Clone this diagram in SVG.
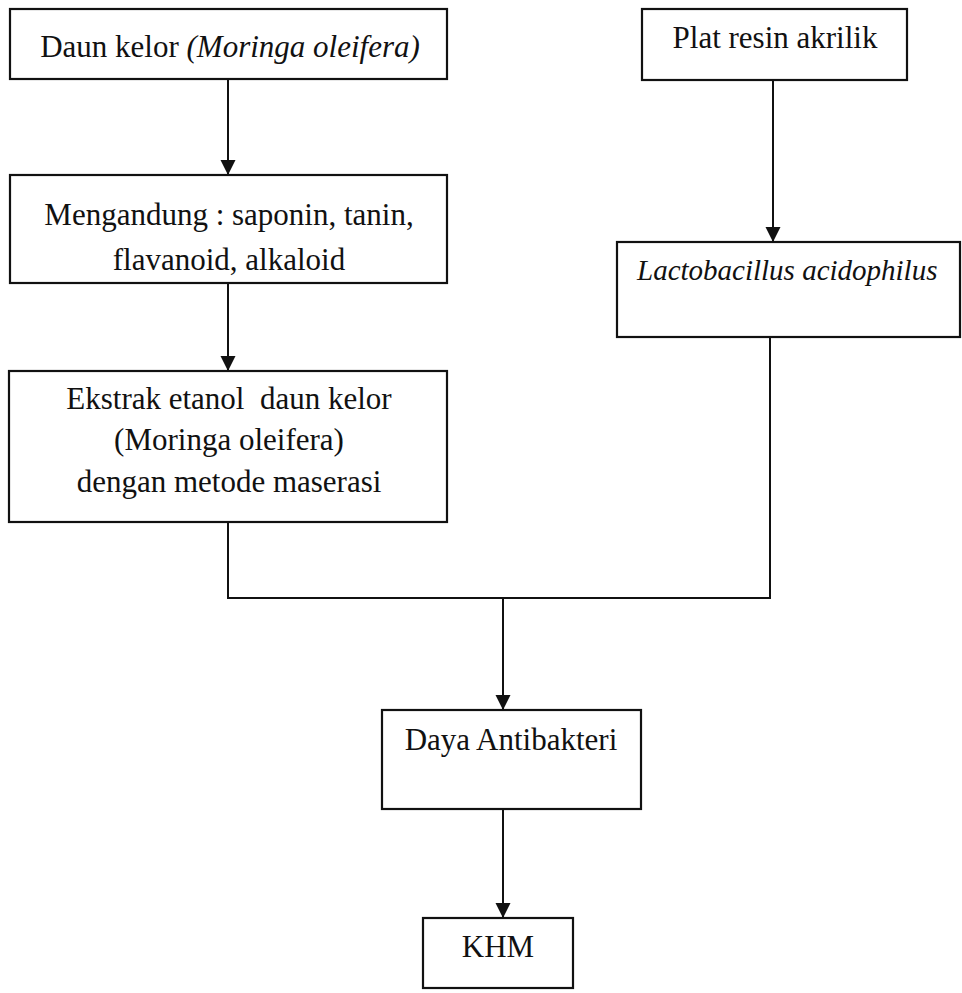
<svg xmlns="http://www.w3.org/2000/svg" width="962" height="993" viewBox="0 0 962 993">
<style>
.box{fill:#fff;stroke:#111;stroke-width:2.2}
.t{font-family:"Liberation Serif","Times New Roman",serif;font-size:31px;fill:#111;text-anchor:middle}
.i{font-style:italic}
.c{fill:none;stroke:#111;stroke-width:2}
</style>
<defs>
<marker id="ah" markerUnits="userSpaceOnUse" markerWidth="16" markerHeight="16" refX="15" refY="7.5" orient="auto">
<path d="M0,0 L15,7.5 L0,15 Z" fill="#111"/>
</marker>
</defs>
<rect width="962" height="993" fill="#fff"/>
<g id="connectors">
<line class="c" x1="228" y1="79" x2="228" y2="175" marker-end="url(#ah)"/>
<line class="c" x1="228" y1="283" x2="228" y2="371" marker-end="url(#ah)"/>
<line class="c" x1="773" y1="80" x2="773" y2="242" marker-end="url(#ah)"/>
<polyline class="c" points="228,522 228,598 770,598 770,337"/>
<line class="c" x1="503" y1="598" x2="503" y2="710" marker-end="url(#ah)"/>
<line class="c" x1="503" y1="809" x2="503" y2="918" marker-end="url(#ah)"/>
</g>
<g id="n1">
<rect class="box" x="10" y="9" width="437" height="70"/>
<text class="t" x="230" y="57">Daun kelor <tspan class="i">(Moringa oleifera)</tspan></text>
</g>
<g id="n2">
<rect class="box" x="10" y="175" width="437" height="108"/>
<text class="t" x="229" y="225">Mengandung : saponin, tanin,</text>
<text class="t" x="229" y="270">flavanoid, alkaloid</text>
</g>
<g id="n3">
<rect class="box" x="9" y="371" width="438" height="151"/>
<text class="t" x="229" y="409" xml:space="preserve">Ekstrak etanol  daun kelor</text>
<text class="t" x="229" y="450">(Moringa oleifera)</text>
<text class="t" x="229" y="492">dengan metode maserasi</text>
</g>
<g id="n4">
<rect class="box" x="642" y="9" width="265" height="71"/>
<text class="t" x="775" y="48">Plat resin akrilik</text>
</g>
<g id="n5">
<rect class="box" x="617" y="242" width="343" height="95"/>
<text class="t i" x="637" y="280" style="text-anchor:start;font-size:29px">Lactobacillus acidophilus</text>
</g>
<g id="n6">
<rect class="box" x="382" y="710" width="259" height="99"/>
<text class="t" x="511" y="750">Daya Antibakteri</text>
</g>
<g id="n7">
<rect class="box" x="423" y="918" width="150" height="70"/>
<text class="t" x="498" y="957">KHM</text>
</g>
</svg>
